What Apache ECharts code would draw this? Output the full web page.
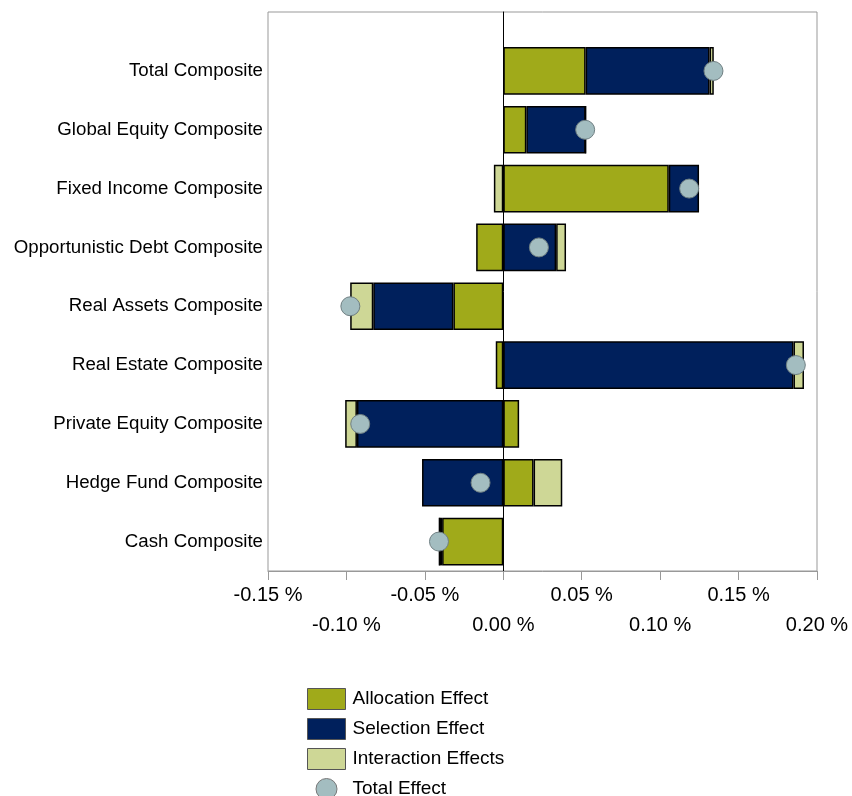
<!DOCTYPE html>
<html>
<head>
<meta charset="utf-8">
<script src="https://cdn.jsdelivr.net/npm/echarts@6/dist/echarts.min.js"></script>
<style>
  html, body { margin: 0; padding: 0; background: #fff; }
  #chart { width: 852px; height: 796px; }
</style>
</head>
<body>
<div id="chart"></div>
<script>
// values in percent
var categories = ['Total Composite', 'Global Equity Composite', 'Fixed Income Composite',
  'Opportunistic Debt Composite', 'Real Assets Composite', 'Real Estate Composite',
  'Private Equity Composite', 'Hedge Fund Composite', 'Cash Composite'];
var allocation = [0.0525, 0.0147, 0.1055, -0.0173, -0.0318, -0.0048, 0.0101, 0.0193, -0.0390];
var selection = [0.0790, 0.0378, 0.0193, 0.0337, -0.0511, 0.1850, -0.0933, -0.0518, -0.0017];
var interaction = [0.0027, 0.0000, -0.0060, 0.0063, -0.0147, 0.0067, -0.0075, 0.0183, 0.0000];
var total = [0.1340, 0.0522, 0.1185, 0.0227, -0.0975, 0.1865, -0.0912, -0.0145, -0.0410];
var xMin = -0.15, xMax = 0.20, xStep = 0.05;

var font = "'Liberation Sans', Arial, sans-serif";
var chart = echarts.init(document.getElementById('chart'));

function barSeries(name, data, color) {
  return {
    name: name,
    type: 'bar',
    stack: 'effect',
    xAxisIndex: 2,
    yAxisIndex: 1,
    barWidth: '81%',
    itemStyle: { color: color, borderColor: '#000', borderWidth: 1.5 },
    data: data
  };
}

// labels alternate between two rows
function tickLabel(row) {
  return function (v) {
    var i = Math.round((v - xMin) / xStep);
    return i % 2 === row ? v.toFixed(2) + ' %' : '';
  };
}

var legendBox = { borderColor: '#555', borderWidth: 1 };

var option = {
  animation: false,
  textStyle: { fontFamily: font },
  grid: [
    { left: 268, right: 35, top: 12, bottom: 225, show: true, borderColor: '#999', borderWidth: 1 },
    { left: 268, right: 35, top: 41.5, bottom: 225 }
  ],
  xAxis: [
    {
      type: 'value', gridIndex: 0, position: 'bottom', min: xMin, max: xMax, interval: xStep,
      axisLine: { show: true, lineStyle: { color: '#999' } },
      axisTick: { show: true, length: 9, lineStyle: { color: '#999' } },
      splitLine: { show: false },
      axisLabel: { margin: 14, fontSize: 20, color: '#000', fontFamily: font, formatter: tickLabel(0) }
    },
    {
      type: 'value', gridIndex: 0, position: 'bottom', offset: 0, min: xMin, max: xMax, interval: xStep,
      axisLine: { show: false }, axisTick: { show: false }, splitLine: { show: false },
      axisLabel: { margin: 44, fontSize: 20, color: '#000', fontFamily: font, formatter: tickLabel(1) }
    },
    { type: 'value', gridIndex: 1, min: xMin, max: xMax, interval: xStep, show: false }
  ],
  yAxis: [
    {
      type: 'value', gridIndex: 0, min: 0, max: 1,
      axisLine: { show: true, onZero: true, lineStyle: { color: '#000', width: 1 } },
      axisTick: { show: false }, axisLabel: { show: false }, splitLine: { show: false }
    },
    {
      type: 'category', gridIndex: 1, data: categories, inverse: true,
      axisLine: { show: false }, axisTick: { show: false }, splitLine: { show: false },
      axisLabel: { fontSize: 18.7, color: '#000', margin: 5, fontFamily: font }
    }
  ],
  legend: {
    orient: 'vertical',
    left: 307,
    top: 688,
    height: 140,
    padding: 0,
    itemWidth: 38,
    itemHeight: 21,
    itemGap: 8,
    textStyle: { fontSize: 19, color: '#000', fontFamily: font, padding: [0, 0, 0, 2] },
    data: [
      { name: 'Allocation Effect', icon: 'rect', itemStyle: legendBox },
      { name: 'Selection Effect', icon: 'rect', itemStyle: legendBox },
      { name: 'Interaction Effects', icon: 'rect', itemStyle: legendBox },
      { name: 'Total Effect', icon: 'circle', itemStyle: { borderColor: '#777', borderWidth: 1 } }
    ]
  },
  series: [
    barSeries('Allocation Effect', allocation, '#A0AA1A'),
    barSeries('Selection Effect', selection, '#00205C'),
    barSeries('Interaction Effects', interaction, '#CED796'),
    {
      name: 'Total Effect',
      type: 'scatter',
      xAxisIndex: 2,
      yAxisIndex: 1,
      symbol: 'circle',
      symbolSize: 19,
      z: 5,
      itemStyle: { color: '#A3BDC0', borderColor: '#6f7f82', borderWidth: 1, opacity: 1 },
      data: total.map(function (v, i) { return [v, categories[i]]; })
    }
  ]
};
chart.setOption(option);
</script>
</body>
</html>
